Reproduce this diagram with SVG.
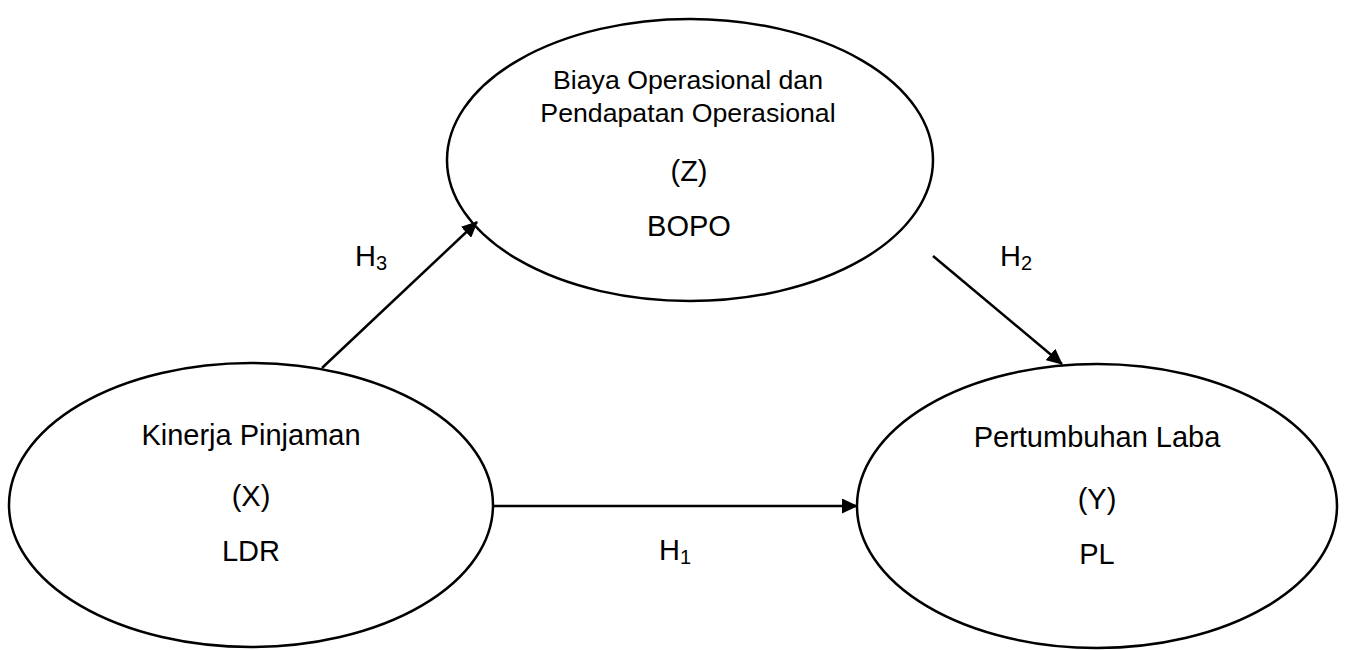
<svg xmlns="http://www.w3.org/2000/svg" width="1346" height="650" viewBox="0 0 1346 650">
<style>
.node{fill:#fff;stroke:#000;stroke-width:2.5}
.t{font-family:"Liberation Sans",Arial,sans-serif;font-size:29px;fill:#000;text-anchor:middle}
.ts{font-size:26.7px}
.h{font-family:"Liberation Sans",Arial,sans-serif;font-size:29px;fill:#000}
.sub{font-size:20px}
.edge{stroke:#000;stroke-width:2.5;fill:none;marker-end:url(#arr)}
</style>
<defs>
<marker id="arr" markerWidth="6.4" markerHeight="6" refX="6" refY="3" orient="auto" markerUnits="strokeWidth">
<path d="M0,0 L6.4,3 L0,6 Z" fill="#000"/>
</marker>
</defs>
<rect width="1346" height="650" fill="#fff"/>
<g id="node-z">
<ellipse class="node" cx="690" cy="160" rx="243" ry="141"/>
<text class="t ts" x="688" y="89">Biaya Operasional dan</text>
<text class="t ts" x="688" y="122">Pendapatan Operasional</text>
<text class="t" x="689" y="181">(Z)</text>
<text class="t" x="689" y="236">BOPO</text>
</g>
<g id="node-x">
<ellipse class="node" cx="251" cy="505" rx="242" ry="142"/>
<text class="t" x="251" y="445">Kinerja Pinjaman</text>
<text class="t" x="251" y="506">(X)</text>
<text class="t" x="251" y="561">LDR</text>
</g>
<g id="node-y">
<ellipse class="node" cx="1097" cy="506" rx="240" ry="142"/>
<text class="t" x="1097" y="447">Pertumbuhan Laba</text>
<text class="t" x="1097" y="509">(Y)</text>
<text class="t" x="1097" y="564">PL</text>
</g>
<g id="connectors">
<line class="edge" x1="322" y1="368" x2="477" y2="222"/>
<line class="edge" x1="933" y1="256" x2="1062" y2="364"/>
<line class="edge" x1="494" y1="506" x2="857" y2="506"/>
<text class="h" x="355" y="266">H<tspan class="sub" dy="4">3</tspan></text>
<text class="h" x="1000" y="266">H<tspan class="sub" dy="4">2</tspan></text>
<text class="h" x="659" y="560">H<tspan class="sub" dy="4">1</tspan></text>
</g>
</svg>
